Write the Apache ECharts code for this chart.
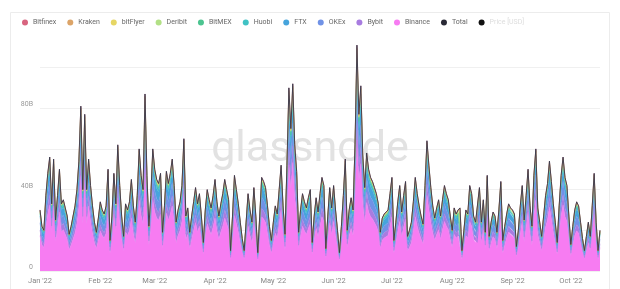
<!DOCTYPE html>
<html>
<head>
<meta charset="utf-8">
<script src="https://cdn.jsdelivr.net/npm/echarts@6/dist/echarts.min.js"></script>
<style>
html,body{margin:0;padding:0;background:#fff;}
#chart{width:620px;height:289px;}
</style>
</head>
<body>
<div id="chart"></div>
<script>
// Daily total derivatives volume (billions USD), Jan 1 2022 -> Oct 16 2022
const totalVolume = [
30,22,20,37,48,56,33,55,25,37,
50,33,35,31,27,18,22,27,32,40,
54,81,40,77,40,55,42,32,24,19,
26,34,30,28,32,50,15,27,48,33,
62,42,27,17,33,30,34,45,32,24,
37,60,47,40,87,47,22,37,60,50,
45,43,48,19,32,49,43,48,55,42,
24,30,34,42,65,27,31,19,27,34,
41,33,38,27,14,30,40,35,31,37,
45,34,27,33,38,45,40,35,10,27,
47,40,33,24,16,10,24,38,30,24,
41,27,9,27,46,44,41,32,22,15,
24,32,28,40,52,32,18,52,90,70,
92,62,49,19,30,38,34,31,36,40,
14,27,36,29,38,46,42,11,27,41,
31,42,30,20,9,22,37,55,20,30,
36,30,62,111,77,91,57,41,58,50,
46,44,41,38,33,19,26,28,29,30,
38,46,15,24,34,42,29,37,44,17,
20,24,34,46,38,32,27,23,42,64,
52,41,32,26,31,35,27,35,42,38,
35,27,20,31,28,30,31,10,20,30,
28,42,38,27,24,24,41,24,35,19,
47,17,24,29,27,19,30,44,15,22,
28,33,31,30,28,12,20,32,42,25,
37,50,32,22,47,60,31,24,17,27,
37,43,54,44,33,24,14,32,47,56,
46,42,27,13,22,30,34,32,24,16,
10,17,24,17,32,48,24,10,20
];

// Legend order of exchanges and their estimated share of total volume
const exchanges = ['Bitfinex','Kraken','bitFlyer','Deribit','BitMEX','Huobi','FTX','OKEx','Bybit','Binance'];
const exchangeShare = [0.01,0.005,0.005,0.025,0.015,0.04,0.11,0.12,0.09,0.58];
const exchangeColors = ['#d8647f','#dca468','#e6d664','#b2e086','#4cc490','#40c2c4','#46a4dc','#7092e6','#a87ce0','#f77cf2'];

const startDate = new Date(Date.UTC(2022,0,1));
const months = ['Jan','Feb','Mar','Apr','May','Jun','Jul','Aug','Sep','Oct','Nov','Dec'];
const dates = totalVolume.map((_, i) => {
  const d = new Date(startDate.getTime() + i*86400000);
  return d.toISOString().slice(0,10);
});

const chart = echarts.init(document.getElementById('chart'), null, {renderer:'canvas'});

const stackSeries = [];
for (let k = exchanges.length - 1; k >= 0; k--) {
  stackSeries.push({
    name: exchanges[k],
    type: 'line',
    stack: 'vol',
    symbol: 'none',
    color: exchangeColors[k],
    lineStyle: {width: 0.5, color: exchangeColors[k]},
    areaStyle: {color: exchangeColors[k], opacity: 1},
    data: totalVolume.map(v => +(v * exchangeShare[k]).toFixed(3)),
    z: 2
  });
}

const option = {
  backgroundColor: '#fff',
  animation: false,
  graphic: [
    {type:'rect', shape:{x:10.5, y:12.5, width:599, height:300}, style:{fill:'none', stroke:'#ececec', lineWidth:1}, z:0, silent:true},
    {type:'text', x:310, y:150, style:{text:'glassnode', font:'400 43px Roboto', fill:'#e2e2e2', textAlign:'center', textVerticalAlign:'middle'}, z:1, silent:true}
  ],
  legend: {
    top: 14, left: 17,
    icon: 'circle', itemWidth: 6, itemHeight: 6, itemGap: 11,
    textStyle: {fontSize: 7, color: '#666', fontFamily: 'Roboto'},
    data: exchanges.map(n => n).concat(['Total', {name:'Price [USD]', textStyle:{color:'#ddd'}}])
  },
  grid: {left: 40, right: 20, top: 37, bottom: 18},
  xAxis: {
    type: 'category',
    boundaryGap: false,
    data: dates,
    axisLine: {show:false},
    axisTick: {show:false},
    axisLabel: {
      interval: (idx, val) => val.slice(8) === '01',
      formatter: (val) => months[+val.slice(5,7)-1] + " '" + val.slice(2,4),
      fontSize: 7.5, color: '#888', fontFamily: 'Roboto', margin: 6
    },
    splitLine: {show:false}
  },
  yAxis: {
    type: 'value',
    min: 0, max: 115, interval: 20,
    axisLine: {show:false},
    axisTick: {show:false},
    axisLabel: {
      formatter: v => (v % 40 === 0 && v <= 100) ? (v === 0 ? '0' : v + 'B') : '',
      fontSize: 7, color: '#999', fontFamily: 'Roboto', margin: 7, verticalAlign: 'bottom'
    },
    splitLine: {show: true, lineStyle: {color: ['#f0f0f0','#f0f0f0','#f0f0f0','#f0f0f0','#f0f0f0','#f0f0f0','rgba(0,0,0,0)'], width: 1}}
  },
  series: stackSeries.concat([
    {name:'Total', type:'line', symbol:'none', color:'#2a2a36', lineStyle:{width:0.9, color:'#363a4c'}, data: totalVolume, z:3},
    {name:'Price [USD]', type:'line', symbol:'none', color:'#111', data: []}
  ])
};
chart.setOption(option);
</script>
</body>
</html>
